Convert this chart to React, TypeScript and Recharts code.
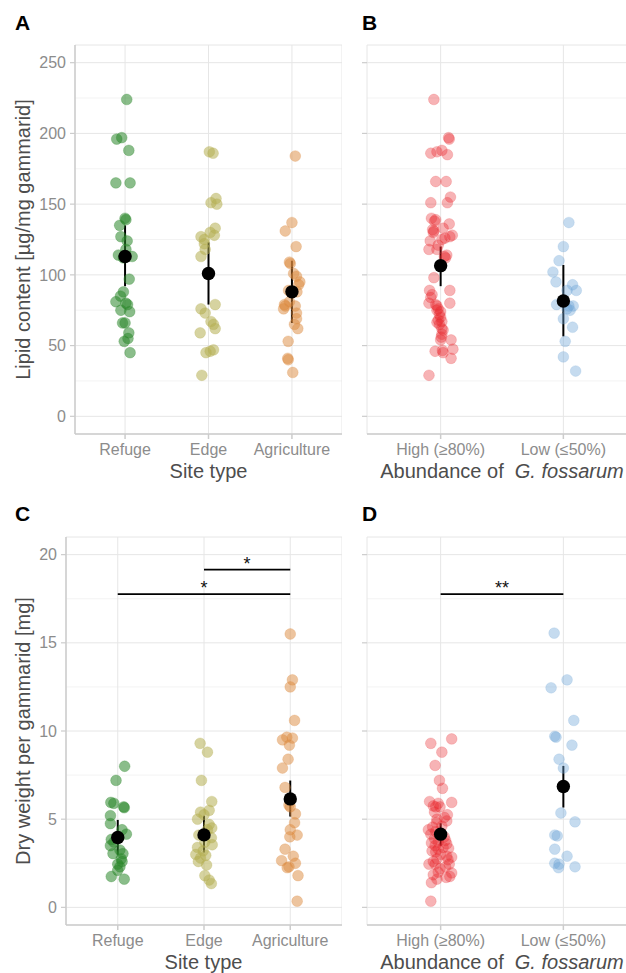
import React from 'react';
import {
  CartesianGrid,
  ErrorBar,
  ReferenceLine,
  Scatter,
  ScatterChart,
  XAxis,
  YAxis,
} from 'recharts';

// each point: [value, horizontal jitter in category units]
type Pt = [number, number];

const SITE_TYPES = ['Refuge', 'Edge', 'Agriculture'];
const ABUNDANCE = ['High (≥80%)', 'Low (≤50%)'];

const LIPID_TICKS = [0, 50, 100, 150, 200, 250];
const LIPID_MINOR = [25, 75, 125, 175, 225];
const WEIGHT_TICKS = [0, 5, 10, 15, 20];
const WEIGHT_MINOR = [2.5, 7.5, 12.5, 17.5];

const lipidRefuge: Pt[] = [
  [224, 0.02], [197, -0.04], [196, -0.1], [188, 0.045], [165, -0.11], [165, 0.06],
  [140, 0.0], [139, 0.01], [135, -0.065], [127, -0.05], [124, 0.025], [118, 0.01],
  [114, -0.08], [113, 0.085], [112, -0.02], [97, 0.05], [88, -0.02], [85, -0.055],
  [81, -0.11], [80, 0.01], [79, 0.03], [75, -0.05], [74, 0.055], [66, -0.03],
  [66, 0.0], [59, 0.045], [55, 0.035], [53, -0.01], [45, 0.06],
];
const lipidEdge: Pt[] = [
  [187, 0.01], [186, 0.055], [154, 0.09], [151, 0.03], [150, 0.1], [133, 0.08],
  [130, 0.02], [128, 0.07], [127, -0.09], [125, -0.05], [122, -0.05], [118, -0.04],
  [113, -0.09], [79, 0.08], [76, -0.09], [73, -0.04], [67, 0.03], [65, 0.06],
  [62, 0.08], [59, -0.1], [47, 0.06], [46, 0.02], [45, -0.03], [29, -0.08],
];
const lipidAgri: Pt[] = [
  [184, 0.04], [137, 0.0], [131, -0.08], [120, 0.05], [109, -0.03], [108, -0.02],
  [101, 0.02], [99, 0.055], [95, 0.095], [93, 0.08], [89, -0.04], [88, 0.01],
  [88, 0.06], [81, -0.03], [79, -0.09], [78, -0.08], [78, 0.04], [76, -0.1],
  [73, 0.055], [69, 0.055], [65, 0.03], [62, 0.07], [53, -0.045], [41, -0.05],
  [40, -0.045], [31, 0.01],
];
const lipidSiteMean = [113, 101, 88];
const lipidSiteLow = [92, 79, 66];
const lipidSiteHigh = [135, 123, 110];

const lipidHigh: Pt[] = [
  [224, -0.055], [197, 0.065], [196, 0.07], [186, -0.08], [187, -0.03], [188, 0.01],
  [185, 0.055], [166, -0.04], [166, 0.045], [151, -0.08], [151, 0.055], [155, 0.08],
  [140, -0.075], [139, -0.04], [138, -0.05], [136, 0.07], [133, 0.02], [132, -0.065],
  [131, -0.055], [130, -0.06], [128, 0.095], [127, 0.075], [126, 0.035], [124, -0.085],
  [121, -0.02], [125, 0.01], [118, -0.095], [118, -0.03], [114, 0.05], [113, 0.03],
  [112, 0.04], [98, -0.055], [89, -0.09], [89, 0.075], [86, -0.07], [84, -0.08],
  [80, -0.095], [80, 0.075], [79, -0.04], [78, -0.03], [75, -0.03], [76, -0.02],
  [74, 0.0], [72, -0.01], [70, 0.0], [68, -0.02], [66.5, -0.03], [65, -0.01],
  [67, 0.01], [62, 0.01], [61, 0.02], [58, 0.01], [56, 0.005], [54, 0.085],
  [54, 0.0], [47.5, 0.1], [46.6, 0.015], [46, -0.045], [45, 0.02], [41, 0.085],
  [29, -0.095],
];
const lipidLow: Pt[] = [
  [137, 0.045], [120, 0.0], [110, -0.035], [102, -0.085], [95, -0.06], [93, 0.075],
  [89, 0.105], [89, 0.03], [79, -0.055], [78, 0.045], [78, 0.08], [76, 0.03],
  [75, 0.055], [69, 0.0], [63, 0.075], [53, 0.015], [42, 0.0], [32, 0.1],
];
const lipidAbundMean = [106.5, 81.5];
const lipidAbundLow = [92, 56.5];
const lipidAbundHigh = [120, 107];

const weightRefuge: Pt[] = [
  [8.0, 0.08], [7.2, -0.02], [5.95, -0.08], [5.9, -0.045], [5.7, 0.07], [5.65, 0.075],
  [5.2, -0.085], [4.75, -0.085], [4.4, 0.05], [4.15, 0.1], [3.85, -0.075], [3.7, -0.045],
  [3.5, -0.085], [3.25, 0.025], [3.05, -0.055], [3.05, 0.06], [2.75, 0.04], [2.6, 0.05],
  [2.45, 0.0], [2.3, 0.025], [2.1, 0.0], [1.75, -0.075], [1.6, 0.075],
];
const weightEdge: Pt[] = [
  [9.3, -0.045], [8.8, 0.04], [7.2, -0.03], [6.0, 0.09], [5.5, 0.06], [5.4, -0.04],
  [5.25, 0.0], [5.0, -0.075], [4.7, 0.06], [4.5, 0.09], [4.4, 0.04], [4.1, -0.06],
  [3.95, 0.085], [3.7, 0.01], [3.55, 0.095], [3.4, -0.075], [3.2, -0.01], [3.0, -0.095],
  [2.95, 0.02], [2.8, -0.04], [2.6, -0.065], [2.4, 0.03], [1.8, 0.01], [1.55, 0.06],
  [1.35, 0.085],
];
const weightAgri: Pt[] = [
  [15.5, 0.0], [12.9, 0.025], [12.5, 0.0], [10.6, 0.05], [9.65, -0.04], [9.6, 0.025],
  [9.5, -0.09], [9.2, -0.01], [8.4, -0.025], [7.9, -0.09], [6.8, -0.06], [5.8, -0.015],
  [5.7, 0.0], [5.3, 0.06], [4.8, 0.05], [4.4, 0.0], [4.1, 0.08], [4.0, -0.005],
  [3.3, -0.06], [2.9, 0.035], [2.65, -0.1], [2.5, 0.06], [2.3, -0.015], [2.25, -0.035],
  [1.8, 0.09], [0.35, 0.08],
];
const weightSiteMean = [3.96, 4.11, 6.15];
const weightSiteLow = [2.98, 3.11, 5.15];
const weightSiteHigh = [4.96, 5.19, 7.19];

const weightHigh: Pt[] = [
  [9.3, -0.08], [9.55, 0.09], [8.8, 0.01], [8.05, -0.045], [7.2, -0.01], [6.75, 0.015],
  [6.0, -0.09], [5.9, -0.02], [5.95, 0.09], [5.75, -0.06], [5.7, -0.04], [5.7, -0.005],
  [5.4, -0.05], [5.25, 0.055], [5.1, 0.03], [5.0, -0.03], [4.9, 0.05], [4.8, -0.035],
  [4.55, -0.065], [4.6, 0.01], [4.4, -0.1], [4.3, -0.04], [4.15, -0.08], [4.1, -0.01],
  [4.0, 0.03], [3.9, -0.05], [3.8, 0.04], [3.7, -0.02], [3.65, -0.075], [3.6, 0.05],
  [3.5, -0.045], [3.4, 0.02], [3.35, 0.065], [3.3, -0.02], [3.2, -0.07], [3.15, -0.04],
  [3.0, 0.0], [2.9, 0.05], [2.85, 0.09], [2.75, -0.03], [2.7, 0.06], [2.6, -0.06],
  [2.45, -0.095], [2.45, -0.045], [2.45, 0.07], [2.3, 0.04], [2.2, -0.005], [2.0, -0.02],
  [1.95, 0.09], [1.85, -0.06], [1.75, 0.075], [1.7, 0.045], [1.6, -0.03], [1.4, -0.075],
  [0.35, -0.08],
];
const weightLow: Pt[] = [
  [15.55, -0.075], [12.9, 0.03], [12.45, -0.1], [10.6, 0.085], [9.7, -0.07], [9.65, -0.06],
  [9.2, 0.07], [8.4, -0.035], [7.9, 0.0], [5.35, -0.02], [4.85, 0.095], [4.1, -0.07],
  [4.05, -0.05], [3.3, -0.07], [2.9, 0.03], [2.5, -0.07], [2.45, -0.035], [2.25, -0.04],
  [2.3, 0.095],
];
const weightAbundMean = [4.15, 6.85];
const weightAbundLow = [3.49, 5.66];
const weightAbundHigh = [4.77, 8.02];

const SITE_COLORS = ['#2a862a', '#b5af52', '#dc8a3e'];
const ABUND_COLORS = ['#e8262a', '#6fa6d6'];

const FONT = "'Liberation Sans', Arial, sans-serif";
const GRID = '#e6e6e6';
const GRID_MINOR = '#f0f0f0';
const AXIS = '#cccccc';
const TICK_TEXT = '#8c8c8c';
const TITLE_TEXT = '#4d4d4d';

interface Group {
  pos: number;
  points: Pt[];
  color: string;
  opacity: number;
}

interface Bracket {
  from: number;
  to: number;
  y: number;
  label: string;
}

interface PanelProps {
  left: number;
  top: number;
  width: number;
  height: number;
  marginTop: number;
  xAxisHeight: number;
  yAxisWidth: number;
  xDomain: [number, number];
  yDomain: [number, number];
  yTicks: number[];
  yMinor: number[];
  showYAxis: boolean;
  cats: string[];
  groups: Group[];
  means: number[];
  lows: number[];
  highs: number[];
  brackets?: Bracket[];
  yTitle?: string;
}

const dot = (color: string, opacity: number) => (p: any) => (
  <circle
    cx={p.cx}
    cy={p.cy}
    r={5.4}
    fill={color}
    fillOpacity={opacity}
    stroke={color}
    strokeOpacity={opacity * 0.6}
    strokeWidth={0.8}
  />
);

const meanDot = (p: any) => <circle cx={p.cx} cy={p.cy} r={6.7} fill="#000" />;

function Panel(props: PanelProps) {
  const meanData = props.means.map((m, i) => ({
    x: i + 1,
    y: m,
    err: [m - props.lows[i], props.highs[i] - m],
  }));
  return (
    <div style={{ position: 'absolute', left: props.left, top: props.top }}>
      <ScatterChart
        width={props.width}
        height={props.height}
        margin={{ top: props.marginTop, right: 0, bottom: 0, left: 0 }}
        style={{ fontFamily: FONT }}
      >
        <CartesianGrid
          horizontalValues={props.yMinor}
          vertical={false}
          stroke={GRID_MINOR}
          strokeWidth={0.8}
        />
        <CartesianGrid stroke={GRID} strokeWidth={1} />
        <XAxis
          type="number"
          dataKey="x"
          domain={props.xDomain}
          ticks={props.cats.map((_, i) => i + 1)}
          tickFormatter={(v: number) => props.cats[Math.round(v) - 1]}
          allowDataOverflow
          height={props.xAxisHeight}
          stroke={AXIS}
          strokeWidth={1.5}
          tickSize={5}
          tickMargin={5}
          tick={{ fill: TICK_TEXT, fontSize: 16, fontFamily: FONT }}
        />
        <YAxis
          type="number"
          dataKey="y"
          domain={props.yDomain}
          ticks={props.yTicks}
          allowDataOverflow
          width={props.yAxisWidth}
          axisLine={props.showYAxis ? { stroke: AXIS, strokeWidth: 1.5 } : false}
          tickLine={{ stroke: AXIS, strokeWidth: 1.2 }}
          tickSize={5}
          tickMargin={4}
          tickFormatter={props.showYAxis ? (v: number) => String(v) : () => ''}
          tick={{ fill: TICK_TEXT, fontSize: 16, fontFamily: FONT }}
          label={
            props.yTitle
              ? {
                  value: props.yTitle,
                  angle: -90,
                  position: 'insideLeft',
                  offset: 23,
                  style: { textAnchor: 'middle', fill: TITLE_TEXT, fontSize: 20, fontFamily: FONT },
                }
              : undefined
          }
        />
        {props.groups.map((g, i) => (
          <Scatter
            key={i}
            data={g.points.map(([v, j]) => ({ x: g.pos + j, y: v }))}
            shape={dot(g.color, g.opacity)}
            isAnimationActive={false}
          />
        ))}
        <Scatter data={meanData} shape={meanDot} isAnimationActive={false}>
          <ErrorBar dataKey="err" direction="y" width={0} stroke="#000" strokeWidth={2} />
        </Scatter>
        {(props.brackets || []).map((b, i) => (
          <ReferenceLine
            key={i}
            segment={[
              { x: b.from, y: b.y },
              { x: b.to, y: b.y },
            ]}
            stroke="#000"
            strokeWidth={1.8}
            label={{ value: b.label, position: 'top', offset: 0, fill: '#111', fontSize: 18, fontFamily: FONT }}
          />
        ))}
      </ScatterChart>
    </div>
  );
}

const letterStyle = (left: number, top: number): React.CSSProperties => ({
  position: 'absolute',
  left,
  top,
  fontFamily: FONT,
  fontWeight: 700,
  fontSize: 21,
  lineHeight: '21px',
  color: '#000',
});

const xTitleStyle = (left: number, top: number, width: number): React.CSSProperties => ({
  position: 'absolute',
  left,
  top,
  width,
  textAlign: 'center',
  fontFamily: FONT,
  fontSize: 20,
  lineHeight: '20px',
  color: TITLE_TEXT,
  whiteSpace: 'pre',
});

export default function App() {
  return (
    <div
      style={{
        position: 'absolute',
        left: 0,
        top: 0,
        width: 626,
        height: 973,
        overflow: 'hidden',
        background: '#fff',
      }}
    >
      <Panel
        left={0}
        top={0}
        width={342}
        height={490}
        marginTop={45}
        xAxisHeight={56}
        yAxisWidth={75}
        xDomain={[0.4, 3.6]}
        yDomain={[-12.5, 262.5]}
        yTicks={LIPID_TICKS}
        yMinor={LIPID_MINOR}
        showYAxis
        cats={SITE_TYPES}
        groups={[
          { pos: 1, points: lipidRefuge, color: SITE_COLORS[0], opacity: 0.55 },
          { pos: 2, points: lipidEdge, color: SITE_COLORS[1], opacity: 0.55 },
          { pos: 3, points: lipidAgri, color: SITE_COLORS[2], opacity: 0.5 },
        ]}
        means={lipidSiteMean}
        lows={lipidSiteLow}
        highs={lipidSiteHigh}
        yTitle="Lipid content [µg/mg gammarid]"
      />
      <Panel
        left={342}
        top={0}
        width={295}
        height={490}
        marginTop={45}
        xAxisHeight={56}
        yAxisWidth={25}
        xDomain={[0.4, 2.6]}
        yDomain={[-12.5, 262.5]}
        yTicks={LIPID_TICKS}
        yMinor={LIPID_MINOR}
        showYAxis={false}
        cats={ABUNDANCE}
        groups={[
          { pos: 1, points: lipidHigh, color: ABUND_COLORS[0], opacity: 0.35 },
          { pos: 2, points: lipidLow, color: ABUND_COLORS[1], opacity: 0.4 },
        ]}
        means={lipidAbundMean}
        lows={lipidAbundLow}
        highs={lipidAbundHigh}
      />
      <Panel
        left={0}
        top={490}
        width={342}
        height={483}
        marginTop={47}
        xAxisHeight={48}
        yAxisWidth={66}
        xDomain={[0.4, 3.6]}
        yDomain={[-1, 21]}
        yTicks={WEIGHT_TICKS}
        yMinor={WEIGHT_MINOR}
        showYAxis
        cats={SITE_TYPES}
        groups={[
          { pos: 1, points: weightRefuge, color: SITE_COLORS[0], opacity: 0.55 },
          { pos: 2, points: weightEdge, color: SITE_COLORS[1], opacity: 0.55 },
          { pos: 3, points: weightAgri, color: SITE_COLORS[2], opacity: 0.5 },
        ]}
        means={weightSiteMean}
        lows={weightSiteLow}
        highs={weightSiteHigh}
        brackets={[
          { from: 1, to: 3, y: 17.76, label: '*' },
          { from: 2, to: 3, y: 19.15, label: '*' },
        ]}
        yTitle="Dry weight per gammarid [mg]"
      />
      <Panel
        left={342}
        top={490}
        width={295}
        height={483}
        marginTop={47}
        xAxisHeight={48}
        yAxisWidth={25}
        xDomain={[0.4, 2.6]}
        yDomain={[-1, 21]}
        yTicks={WEIGHT_TICKS}
        yMinor={WEIGHT_MINOR}
        showYAxis={false}
        cats={ABUNDANCE}
        groups={[
          { pos: 1, points: weightHigh, color: ABUND_COLORS[0], opacity: 0.35 },
          { pos: 2, points: weightLow, color: ABUND_COLORS[1], opacity: 0.4 },
        ]}
        means={weightAbundMean}
        lows={weightAbundLow}
        highs={weightAbundHigh}
        brackets={[{ from: 1, to: 2, y: 17.76, label: '**' }]}
      />

      <div style={letterStyle(15, 12)}>A</div>
      <div style={letterStyle(362, 12)}>B</div>
      <div style={letterStyle(15, 503)}>C</div>
      <div style={letterStyle(362, 503)}>D</div>

      <div style={xTitleStyle(75, 461, 267)}>Site type</div>
      <div style={xTitleStyle(367, 461, 270)}>
        {'Abundance of  '}
        <i>G. fossarum</i>
      </div>
      <div style={xTitleStyle(65, 952, 277)}>Site type</div>
      <div style={xTitleStyle(367, 952, 270)}>
        {'Abundance of  '}
        <i>G. fossarum</i>
      </div>
    </div>
  );
}
